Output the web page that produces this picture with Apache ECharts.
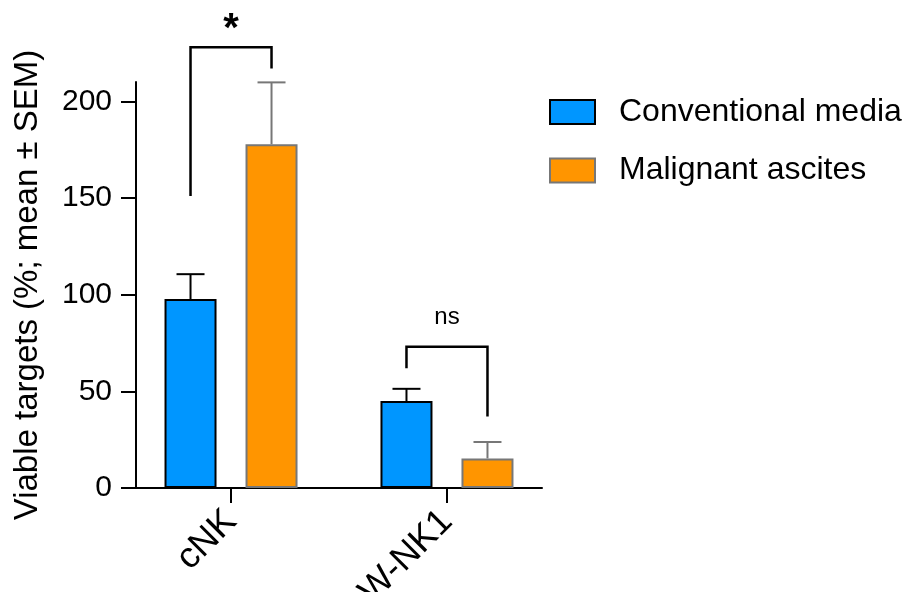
<!DOCTYPE html>
<html>
<head>
<meta charset="utf-8">
<script src="https://cdn.jsdelivr.net/npm/echarts@6/dist/echarts.min.js"></script>
<style>
html,body{margin:0;padding:0;background:#fff;}
#chart{width:912px;height:592px;}
</style>
</head>
<body>
<div id="chart"></div>
<script>
// ---- data ----
const categories = ['cNK', 'W-NK1'];
const categoryPositions = [0, 1];
const seriesNames = ['Conventional media', 'Malignant ascites'];
const conventionalMean = [97.7, 45.0];
const conventionalSem = [12.9, 6.3];
const ascitesMean = [177.8, 15.3];
const ascitesSem = [32.0, 8.5];
const yTicks = [0, 50, 100, 150, 200];
const sigLabels = ['*', 'ns'];
const bracketLeftY = [151, 62];
const bracketRightY = [217, 37];
const bracketTopY = [228, 73];

// ---- styles ----
const BAR_W = 52;
const GAP_PX = 29;
const HALF = (BAR_W + GAP_PX) / 2;
const FONT = 'Liberation Sans';
const blue = '#0096FF', orange = '#FF9500', grey = '#777777';

const chart = echarts.init(document.getElementById('chart'), null, {renderer: 'canvas'});

function errSeries(name, means, sems, dir, color) {
  return {
    type: 'custom', name: name + ' SEM', clip: false, z: 3,
    data: categoryPositions.map((x, i) => [x, means[i], sems[i]]),
    encode: {x: 0, y: 1},
    renderItem: function (params, api) {
      const b = api.coord([api.value(0), api.value(1)]);
      const t = api.coord([api.value(0), api.value(1) + api.value(2)]);
      const cx = b[0] + dir * HALF;
      const st = {stroke: color, lineWidth: 2};
      return {type: 'group', children: [
        {type: 'line', shape: {x1: cx, y1: b[1], x2: cx, y2: t[1]}, style: st},
        {type: 'line', shape: {x1: cx - 14, y1: t[1], x2: cx + 14, y2: t[1]}, style: st}
      ]};
    }
  };
}

const option = {
  animation: false,
  backgroundColor: '#fff',
  grid: {left: 136, right: 370, top: 82, bottom: 104, containLabel: false, outerBoundsMode: 'none'},
  legend: {
    data: seriesNames, orient: 'vertical', left: 549, top: 96, padding: 0,
    itemWidth: 45, itemHeight: 24, itemGap: 26.5, icon: 'rect',
    textStyle: {fontSize: 32, fontFamily: FONT, color: '#000', lineHeight: 29, padding: [0, 0, 0, 19]}
  },
  xAxis: {
    type: 'value', min: -0.44, max: 1.44,
    splitLine: {show: false},
    axisLine: {show: true, onZero: false, lineStyle: {color: '#000', width: 2}},
    axisTick: {show: true, customValues: categoryPositions, length: 15, lineStyle: {color: '#000', width: 2}},
    axisLabel: {
      customValues: categoryPositions, rotate: 45, margin: 28,
      formatter: v => categories[Math.round(v)],
      fontSize: 36, fontFamily: FONT, color: '#000'
    }
  },
  yAxis: {
    type: 'value', min: 0, max: 210,
    name: 'Viable targets (%; mean ± SEM)', nameLocation: 'middle', nameGap: 92,
    nameTextStyle: {fontSize: 33, fontFamily: FONT, color: '#000'},
    splitLine: {show: false},
    axisLine: {show: true, onZero: false, lineStyle: {color: '#000', width: 2}},
    axisTick: {show: true, customValues: yTicks, length: 15, lineStyle: {color: '#000', width: 2}},
    axisLabel: {customValues: yTicks, margin: 24, fontSize: 30, fontFamily: FONT, color: '#000'}
  },
  series: [
    {
      type: 'bar', name: seriesNames[0], barWidth: BAR_W, barGap: (GAP_PX / BAR_W * 100) + '%',
      itemStyle: {color: blue, borderColor: '#000', borderWidth: 2},
      data: categoryPositions.map((x, i) => [x, conventionalMean[i]])
    },
    {
      type: 'bar', name: seriesNames[1], barWidth: BAR_W, barGap: (GAP_PX / BAR_W * 100) + '%',
      itemStyle: {color: orange, borderColor: grey, borderWidth: 2},
      data: categoryPositions.map((x, i) => [x, ascitesMean[i]])
    },
    errSeries(seriesNames[0], conventionalMean, conventionalSem, -1, '#000'),
    errSeries(seriesNames[1], ascitesMean, ascitesSem, 1, grey),
    {
      type: 'custom', name: 'significance', clip: false, z: 4,
      data: categoryPositions.map((x, i) => [x, bracketLeftY[i], bracketRightY[i], bracketTopY[i]]),
      encode: {x: 0, y: 3},
      renderItem: function (params, api) {
        const i = params.dataIndex;
        const x = api.value(0);
        const l = api.coord([x, api.value(1)]);
        const r = api.coord([x, api.value(2)]);
        const t = api.coord([x, api.value(3)]);
        const xl = l[0] - HALF, xr = l[0] + HALF;
        const isStar = sigLabels[i] === '*';
        return {type: 'group', children: [
          {type: 'polyline', shape: {points: [[xl, l[1]], [xl, t[1]], [xr, t[1]], [xr, r[1]]]},
           style: {stroke: '#000', lineWidth: 2.5, fill: null}},
          {type: 'text', x: t[0], y: t[1] - (isStar ? 17 : 29),
           style: {text: sigLabels[i], fill: '#000', align: 'center', verticalAlign: 'middle',
                   font: (isStar ? 'bold 40px ' : '24px ') + '"' + FONT + '"'}}
        ]};
      }
    }
  ]
};
chart.setOption(option);
</script>
</body>
</html>
